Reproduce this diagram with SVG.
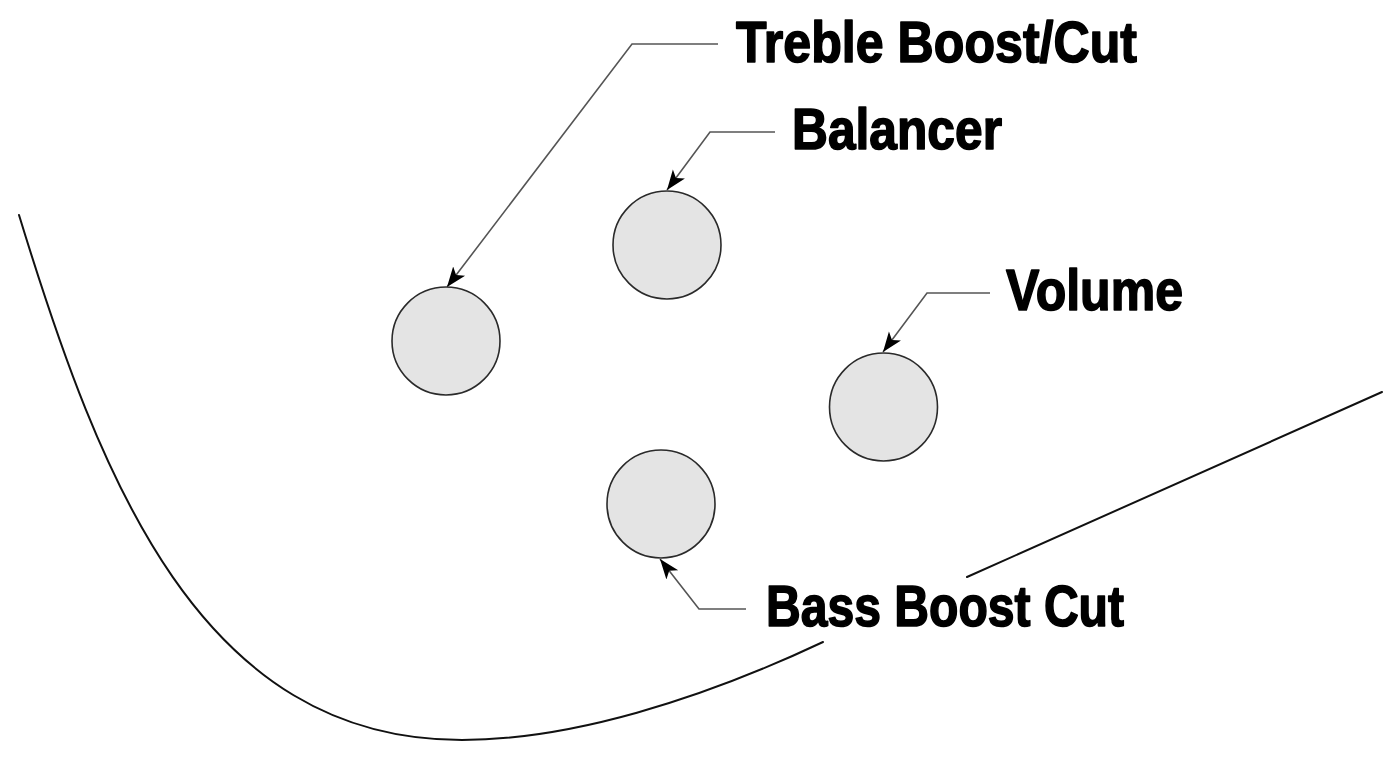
<svg xmlns="http://www.w3.org/2000/svg" width="1400" height="763" viewBox="0 0 1400 763">
  <style>
    .body { fill: none; stroke: #111; stroke-width: 2; stroke-linecap: round; }
    .knob { fill: #e4e4e4; stroke: #2a2a2a; stroke-width: 1.6; }
    .leader { fill: none; stroke: #555; stroke-width: 1.6; }
    .label { font-family: "Liberation Sans Narrow", "Liberation Sans", Arial, sans-serif; font-weight: bold; font-size: 57px; fill: #000; stroke: #000; stroke-width: 1.6; stroke-linejoin: round; }
  </style>
  <defs>
    <marker id="arrow" markerUnits="userSpaceOnUse" markerWidth="22" markerHeight="18" viewBox="0 0 22 18" refX="20" refY="9" orient="auto">
      <path d="M0,1.5 L20,9 L0,16.5 L5,9 z" fill="#000"/>
    </marker>
  </defs>
  <rect width="1400" height="763" fill="#fff"/>

  <g id="body-outline">
    <path class="body" d="M19,215 C100,480 200,740 462,740 C570,740 700,700 823,642"/>
    <path class="body" d="M967,577 L1382,392"/>
  </g>

  <g id="knob-treble"><circle class="knob" cx="446" cy="341" r="54"/></g>
  <g id="knob-balancer"><circle class="knob" cx="667" cy="245" r="54"/></g>
  <g id="knob-volume"><circle class="knob" cx="883.5" cy="407" r="54"/></g>
  <g id="knob-bass"><circle class="knob" cx="661" cy="504" r="54"/></g>

  <g id="connectors">
    <polyline class="leader" points="718,44 632,44 447,287" marker-end="url(#arrow)"/>
    <polyline class="leader" points="775,132 710,132 667,190" marker-end="url(#arrow)"/>
    <polyline class="leader" points="990,293 927,293 883,352" marker-end="url(#arrow)"/>
    <polyline class="leader" points="746,609 699,609 660,559" marker-end="url(#arrow)"/>
  </g>

  <g id="label-treble"><text class="label" x="736" y="62" textLength="401" lengthAdjust="spacingAndGlyphs">Treble Boost/Cut</text></g>
  <g id="label-balancer"><text class="label" x="792" y="149" textLength="210" lengthAdjust="spacingAndGlyphs">Balancer</text></g>
  <g id="label-volume"><text class="label" x="1006" y="310" textLength="177" lengthAdjust="spacingAndGlyphs">Volume</text></g>
  <g id="label-bass"><text class="label" x="766" y="626" textLength="358" lengthAdjust="spacingAndGlyphs">Bass Boost Cut</text></g>
</svg>
